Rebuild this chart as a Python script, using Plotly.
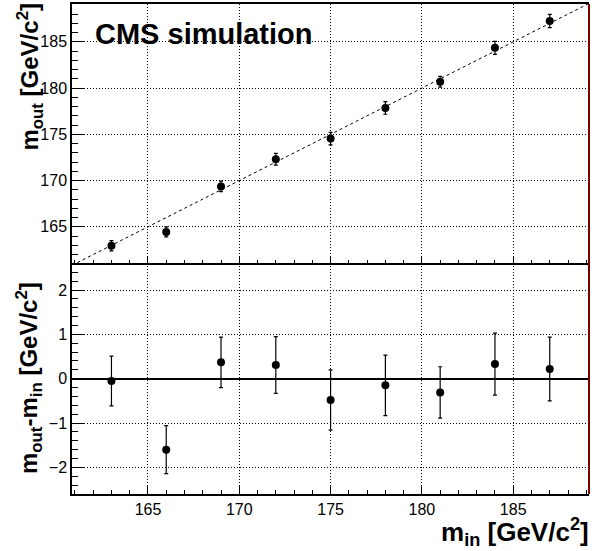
import plotly.graph_objects as go

# ---- data ----
m_in = [163, 166, 169, 172, 175, 178, 181, 184, 187]
m_out = [162.95, 164.45, 169.37, 172.31, 174.54, 177.85, 180.69, 184.35, 187.25]
m_out_err = [0.56, 0.54, 0.57, 0.64, 0.68, 0.68, 0.58, 0.70, 0.72]
delta = [-0.05, -1.60, 0.37, 0.31, -0.48, -0.15, -0.31, 0.33, 0.22]
delta_err = [0.56, 0.54, 0.57, 0.64, 0.68, 0.68, 0.58, 0.70, 0.72]
x_range = [160.84, 189.15]
y_top_range = [161.04, 189.09]
y_bot_range = [-2.6, 2.6]

FONT = "Liberation Sans, Arial, Helvetica, sans-serif"
split = 0.4705

fig = go.Figure()

# diagonal y = x reference line (top panel)
fig.add_trace(go.Scatter(
    x=x_range, y=x_range, mode="lines", xaxis="x2", yaxis="y2",
    line=dict(color="black", width=1, dash="3px,3px"), showlegend=False,
    hoverinfo="skip"))

# top panel points
fig.add_trace(go.Scatter(
    x=m_in, y=m_out, mode="markers", xaxis="x2", yaxis="y2",
    marker=dict(color="black", size=8),
    error_y=dict(type="data", array=m_out_err, color="black", thickness=1.2, width=2),
    showlegend=False))

# bottom panel points
fig.add_trace(go.Scatter(
    x=m_in, y=delta, mode="markers", xaxis="x", yaxis="y",
    marker=dict(color="black", size=8),
    error_y=dict(type="data", array=delta_err, color="black", thickness=1.2, width=2),
    showlegend=False))

common_axis = dict(
    showline=True, linecolor="black", linewidth=1.5,
    showgrid=True, gridcolor="black", gridwidth=1, griddash="1px,2px",
    ticks="inside", tickcolor="black",
    tickfont=dict(family=FONT, size=16, color="black"),
)

fig.update_layout(
    width=592, height=551,
    margin=dict(l=72, r=3, t=2, b=57),
    paper_bgcolor="white", plot_bgcolor="white",
    font=dict(family=FONT, color="black"),
    xaxis=dict(common_axis, domain=[0, 1], anchor="y", range=x_range,
               tick0=165, dtick=5, ticklen=8, mirror=False, zeroline=False,
               minor=dict(dtick=1, ticklen=4, ticks="inside", tickcolor="black", showgrid=False)),
    xaxis2=dict(common_axis, domain=[0, 1], anchor="y2", range=x_range, matches="x",
                tick0=165, dtick=5, ticklen=8, mirror=True, showticklabels=False, zeroline=False,
                minor=dict(dtick=1, ticklen=4, ticks="inside", tickcolor="black", showgrid=False)),
    yaxis=dict(common_axis, domain=[0, split], anchor="x", range=y_bot_range,
               tick0=0, dtick=1, ticklen=12,
               zeroline=True, zerolinecolor="black", zerolinewidth=2,
               minor=dict(dtick=0.2, ticklen=6, ticks="inside", tickcolor="black", showgrid=False)),
    yaxis2=dict(common_axis, domain=[split, 1], anchor="x2", range=y_top_range,
                tick0=165, dtick=5, ticklen=12, zeroline=False,
                minor=dict(dtick=1, ticklen=6, ticks="inside", tickcolor="black", showgrid=False)),
    shapes=[dict(type="line", xref="paper", yref="paper", x0=1, x1=1, y0=0, y1=1,
                 line=dict(color="#7a0000", width=2))],
    annotations=[
        dict(text="<b>CMS simulation</b>", xref="paper", yref="paper",
             x=(93 - 72) / 517, y=(494 - 32) / 492, xanchor="left", yanchor="middle",
             showarrow=False, font=dict(family=FONT, size=29, color="black")),
        dict(text="<b>m<sub>out</sub> [GeV/c<sup>2</sup>]</b>", xref="paper", yref="paper",
             x=(29 - 72) / 517, y=1, yshift=2, xanchor="center", yanchor="top", textangle=-90,
             showarrow=False, font=dict(family=FONT, size=24, color="black")),
        dict(text="<b>m<sub>out</sub>-m<sub>in</sub> [GeV/c<sup>2</sup>]</b>", xref="paper", yref="paper",
             x=(29 - 72) / 517, y=(494 - 377.5) / 492, xanchor="center", yanchor="middle", textangle=-90,
             showarrow=False, font=dict(family=FONT, size=24, color="black")),
        dict(text="<b>m<sub>in</sub> [GeV/c<sup>2</sup>]</b>", xref="paper", yref="paper",
             x=(591 - 72) / 517, y=(494 - 532) / 492, xanchor="right", yanchor="middle",
             showarrow=False, font=dict(family=FONT, size=26, color="black")),
    ],
)

fig.write_html(
    "out.html",
    config={"displayModeBar": False},
    post_script="document.body.style.margin='0';document.body.style.padding='0';",
)
